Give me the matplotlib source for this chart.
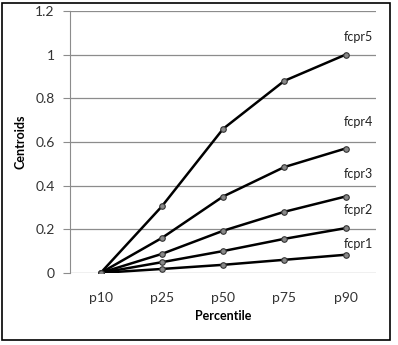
import matplotlib.pyplot as plt
from matplotlib.patches import Rectangle

plt.rcParams['font.family'] = ['Lato', 'DejaVu Sans']

percentiles = ['p10', 'p25', 'p50', 'p75', 'p90']
fcpr1 = [0.0, 0.018, 0.037, 0.06, 0.083]
fcpr2 = [0.0, 0.049, 0.10, 0.156, 0.205]
fcpr3 = [0.0, 0.087, 0.193, 0.28, 0.35]
fcpr4 = [0.0, 0.16, 0.35, 0.485, 0.57]
fcpr5 = [0.0, 0.305, 0.66, 0.88, 1.0]
series = {'fcpr1': fcpr1, 'fcpr2': fcpr2, 'fcpr3': fcpr3, 'fcpr4': fcpr4, 'fcpr5': fcpr5}
# label offsets (points) from last point of each line
label_offsets = {'fcpr1': (9, 8), 'fcpr2': (9, 13), 'fcpr3': (9, 16), 'fcpr4': (9, 19), 'fcpr5': (9, 13)}

fig = plt.figure(figsize=(3.98, 3.45), dpi=100)
ax = fig.add_axes([0.176, 0.209, 0.769, 0.759])

x = list(range(len(percentiles)))
for name, vals in series.items():
    ax.plot(x, vals, color='black', lw=1.8, marker='o', ms=4,
            markerfacecolor='#888888', markeredgecolor='#333333', markeredgewidth=0.8, zorder=3)
    dx, dy = label_offsets[name]
    ax.annotate(name, (x[-1], vals[-1]), xytext=(dx, dy), textcoords='offset points',
                ha='center', va='center', fontsize=9, color='#222222')

ax.set_xlim(-0.5, len(percentiles) - 0.5)
ax.set_ylim(0, 1.2)
ax.set_yticks([0, 0.2, 0.4, 0.6, 0.8, 1.0, 1.2])
ax.set_yticklabels(['0', '0.2', '0.4', '0.6', '0.8', '1', '1.2'])
ax.set_xticks(x)
ax.set_xticklabels(percentiles)
ax.grid(axis='y', color='#8c8c8c', lw=0.9)
ax.set_axisbelow(True)
for s in ['top', 'right', 'bottom']:
    ax.spines[s].set_visible(False)
ax.spines['left'].set_color('#8c8c8c')
ax.tick_params(axis='y', length=5, color='#8c8c8c', labelsize=10, labelcolor='#333333', pad=6)
ax.tick_params(axis='x', length=0, labelsize=10, labelcolor='#333333', pad=14)
ax.set_ylabel('Centroids', fontsize=9, fontweight='bold', labelpad=6)
ax.set_xlabel('Percentile', fontsize=9, fontweight='bold', labelpad=4)

fig.patches.append(Rectangle((2 / 398, 5 / 345), 388 / 398, 337 / 345, transform=fig.transFigure,
                             fill=False, edgecolor='black', lw=1.2))

fig.savefig('out.png', dpi=100)
